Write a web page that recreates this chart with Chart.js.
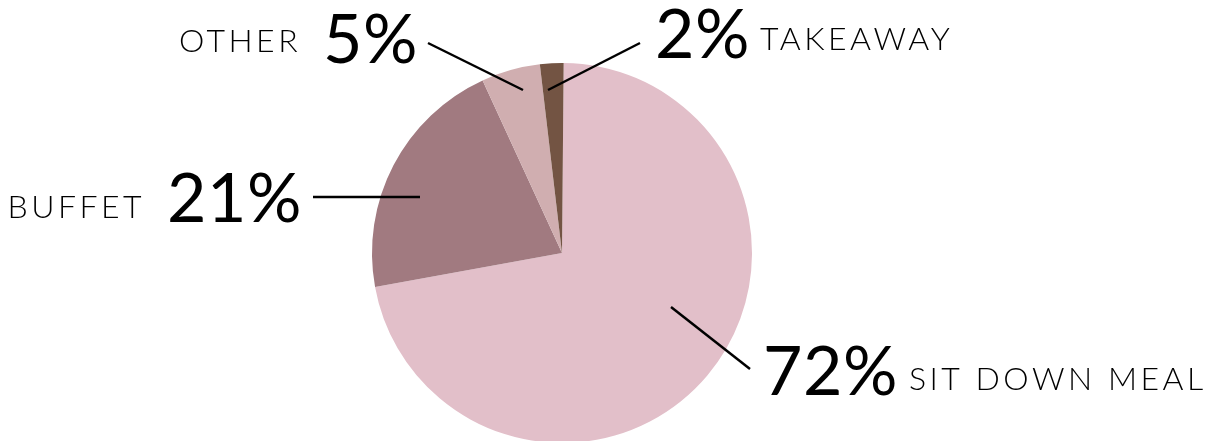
<!DOCTYPE html>
<html>
<head>
<meta charset="utf-8">
<script src="https://cdn.jsdelivr.net/npm/chart.js@4/dist/chart.umd.min.js"></script>
<style>
  html, body { margin: 0; padding: 0; background: #fff; overflow: hidden; }
  #wrap { position: relative; width: 1224px; height: 450px; }
</style>
</head>
<body>
<div id="wrap"><canvas id="mealChart"></canvas></div>
<script>
var categories = ['SIT DOWN MEAL', 'BUFFET', 'OTHER', 'TAKEAWAY'];
var shares = [72, 21, 5, 2];
var sliceColors = ['#e2bfc9', '#a17a80', '#d0aeb0', '#735443'];

// callout placement, offsets from the pie centre
// side 'right' => "NN% NAME", side 'left' => "NAME NN%"
var callouts = [
  { side: 'right', x: 201, y: 142, nameY: 137, from: [109, 54], to: [188, 116], gap: 11 },
  { side: 'left', x: -260, y: -31, nameY: -35, from: [-142, -56], to: [-249, -56], gap: 22 },
  { side: 'left', x: -144, y: -190, nameY: -201, from: [-39, -163], to: [-134, -210], gap: 22 },
  { side: 'right', x: 93, y: -195, nameY: -203, from: [-14, -163], to: [78, -210], gap: 10 }
];

var calloutPlugin = {
  id: 'callouts',
  afterDraw: function (chart) {
    var ctx = chart.ctx,
      arc = chart.getDatasetMeta(0).data[0],
      cx = arc.x,
      cy = arc.y;

    ctx.save();
    ctx.fillStyle = '#000';
    ctx.strokeStyle = '#000';
    ctx.lineWidth = 2.5;
    ctx.textBaseline = 'alphabetic';

    callouts.forEach(function (c, i) {
      ctx.beginPath();
      ctx.moveTo(cx + c.from[0], cy + c.from[1]);
      ctx.lineTo(cx + c.to[0], cy + c.to[1]);
      ctx.stroke();

      var num = shares[i] + '%',
        name = categories[i];

      ctx.font = '400 68px Lato';
      ctx.letterSpacing = '0.5px';
      var numW = ctx.measureText(num).width;

      if (c.side === 'right') {
        ctx.textAlign = 'left';
        ctx.fillText(num, cx + c.x, cy + c.y);
        ctx.font = '300 32px Lato';
        ctx.letterSpacing = '3.5px';
        ctx.fillText(name, cx + c.x + numW + c.gap, cy + c.nameY);
      } else {
        ctx.textAlign = 'right';
        ctx.fillText(num, cx + c.x, cy + c.y);
        ctx.font = '300 32px Lato';
        ctx.letterSpacing = '3.5px';
        ctx.fillText(name, cx + c.x - numW - c.gap, cy + c.nameY);
      }
    });
    ctx.restore();
  }
};

new Chart(document.getElementById('mealChart'), {
  type: 'pie',
  data: {
    labels: categories,
    datasets: [{
      data: shares,
      backgroundColor: sliceColors,
      borderWidth: 0
    }]
  },
  options: {
    responsive: true,
    maintainAspectRatio: false,
    animation: false,
    rotation: 0.5,
    layout: {
      padding: { left: 372, right: 472, top: 63, bottom: 7 }
    },
    plugins: {
      legend: { display: false },
      tooltip: { enabled: false }
    }
  },
  plugins: [calloutPlugin]
});
</script>
</body>
</html>
